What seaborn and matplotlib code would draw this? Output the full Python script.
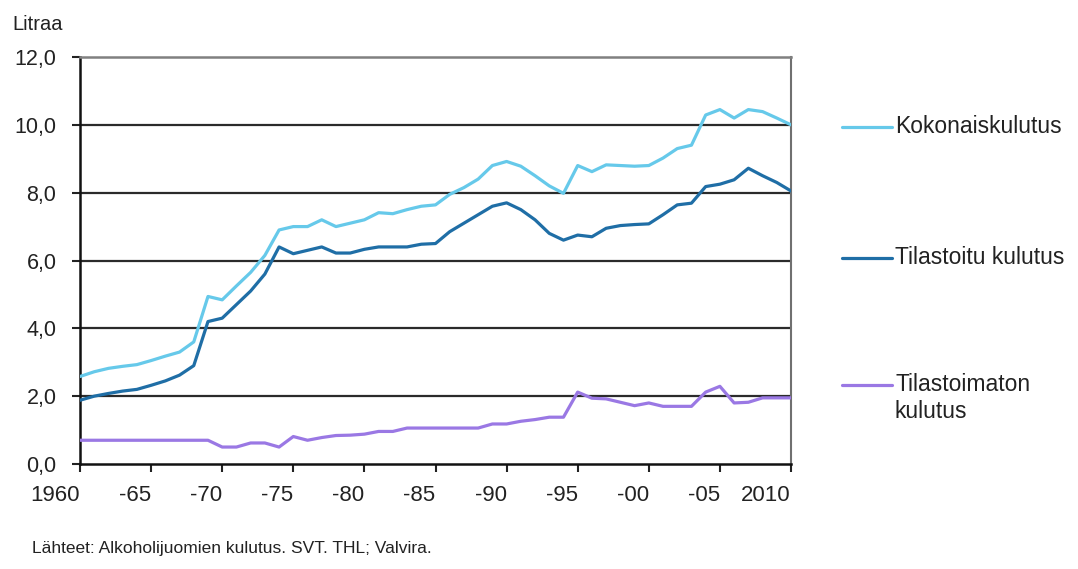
import numpy as np
import pandas as pd
import matplotlib
matplotlib.use("Agg")
import matplotlib.pyplot as plt
from matplotlib.lines import Line2D
import seaborn as sns

years = list(range(1960, 2011))

kokonais = [2.58, 2.72, 2.82, 2.88, 2.93, 3.05, 3.18, 3.30, 3.60, 4.94,
            4.84, 5.25, 5.65, 6.15, 6.90, 7.00, 7.00, 7.20, 7.00, 7.10,
            7.20, 7.41, 7.38, 7.50, 7.60, 7.64, 7.95, 8.15, 8.40, 8.80,
            8.92, 8.78, 8.50, 8.20, 7.98, 8.80, 8.62, 8.82, 8.80, 8.78,
            8.80, 9.02, 9.30, 9.40, 10.29, 10.45, 10.20, 10.45, 10.39, 10.20,
            10.00]

tilastoitu = [1.88, 2.00, 2.08, 2.15, 2.20, 2.32, 2.45, 2.62, 2.90, 4.20,
              4.30, 4.70, 5.10, 5.60, 6.40, 6.20, 6.30, 6.40, 6.22, 6.22,
              6.33, 6.40, 6.40, 6.40, 6.48, 6.50, 6.85, 7.10, 7.35, 7.60,
              7.70, 7.50, 7.20, 6.80, 6.60, 6.75, 6.70, 6.95, 7.03, 7.06,
              7.08, 7.35, 7.64, 7.69, 8.18, 8.25, 8.38, 8.72, 8.50, 8.30,
              8.05]

tilastoimaton = [0.70, 0.70, 0.70, 0.70, 0.70, 0.70, 0.70, 0.70, 0.70, 0.70,
                 0.50, 0.50, 0.62, 0.62, 0.50, 0.81, 0.70, 0.78, 0.84, 0.85,
                 0.88, 0.96, 0.96, 1.06, 1.06, 1.06, 1.06, 1.06, 1.06, 1.18,
                 1.18, 1.26, 1.31, 1.38, 1.38, 2.12, 1.94, 1.92, 1.82, 1.72,
                 1.80, 1.70, 1.70, 1.70, 2.12, 2.29, 1.80, 1.82, 1.95, 1.95,
                 1.95]

series_names = ["Kokonaiskulutus", "Tilastoitu kulutus", "Tilastoimaton\nkulutus"]
colors = ["#66C9EA", "#1F6EA6", "#9A78E4"]

y_ticks = [0, 2, 4, 6, 8, 10, 12]
y_labels = ["0,0", "2,0", "4,0", "6,0", "8,0", "10,0", "12,0"]
x_ticks = [1960, 1965, 1970, 1975, 1980, 1985, 1990, 1995, 2000, 2005, 2010]
x_labels = ["1960", "-65", "-70", "-75", "-80", "-85", "-90", "-95", "-00", "-05", "2010"]

df = pd.DataFrame({
    "Vuosi": years * 3,
    "Litraa": kokonais + tilastoitu + tilastoimaton,
    "Sarja": [series_names[0]] * len(years) + [series_names[1]] * len(years)
             + [series_names[2]] * len(years),
})

sns.set_style("white")
plt.rcParams["font.family"] = ["Liberation Sans", "DejaVu Sans"]

fig = plt.figure(figsize=(10.78, 5.69), dpi=100)
ax = fig.add_axes([80 / 1078, 1 - 464 / 569, 711 / 1078, 407 / 569])

# gridlines
for yv in y_ticks[1:-1]:
    ax.axhline(yv, color="#2b2b2b", lw=1.6, zorder=1)

sns.lineplot(data=df, x="Vuosi", y="Litraa", hue="Sarja", hue_order=series_names,
             palette=colors, lw=2.3, legend=False, ax=ax, zorder=3)

ax.set_xlim(1960, 2010)
ax.set_ylim(0, 12)
ax.set_xlabel("")
ax.set_ylabel("")

ax.set_yticks(y_ticks)
ax.set_yticklabels(y_labels, fontsize=15.5, color="#222222")
ax.set_xticks(x_ticks)
ax.set_xticklabels(x_labels, fontsize=16, color="#222222", ha="right")

ax.tick_params(axis="y", direction="out", length=6, width=1.5, color="#222222", pad=11, left=True)
ax.tick_params(axis="x", direction="out", length=6, width=1.5, color="#222222", pad=9, bottom=True)

for side in ["left", "bottom"]:
    ax.spines[side].set_color("#111111")
    ax.spines[side].set_linewidth(1.8)
ax.spines["top"].set_color("#808080")
ax.spines["top"].set_linewidth(1.8)
ax.spines["right"].set_color("#707070")
ax.spines["right"].set_linewidth(1.5)

fig.text(12 / 1078, 1 - 25 / 569, "Litraa", fontsize=14.5, color="#222222", va="center", ha="left")

# legend
leg_y = [127, 258, 385]
for name, col, yy in zip(series_names, colors, leg_y):
    fy = 1 - yy / 569
    fig.add_artist(Line2D([842 / 1078, 892 / 1078], [fy, fy], color=col, lw=2.3,
                          transform=fig.transFigure))
    fig.text(895 / 1078, 1 - (yy - 12) / 569, name, fontsize=16.5, color="#222222",
             va="top", ha="left", linespacing=1.2)

fig.text(32 / 1078, 1 - 548 / 569, "Lähteet: Alkoholijuomien kulutus. SVT. THL; Valvira.",
         fontsize=12.5, color="#222222", va="center", ha="left")

fig.savefig("out.png", dpi=100)
